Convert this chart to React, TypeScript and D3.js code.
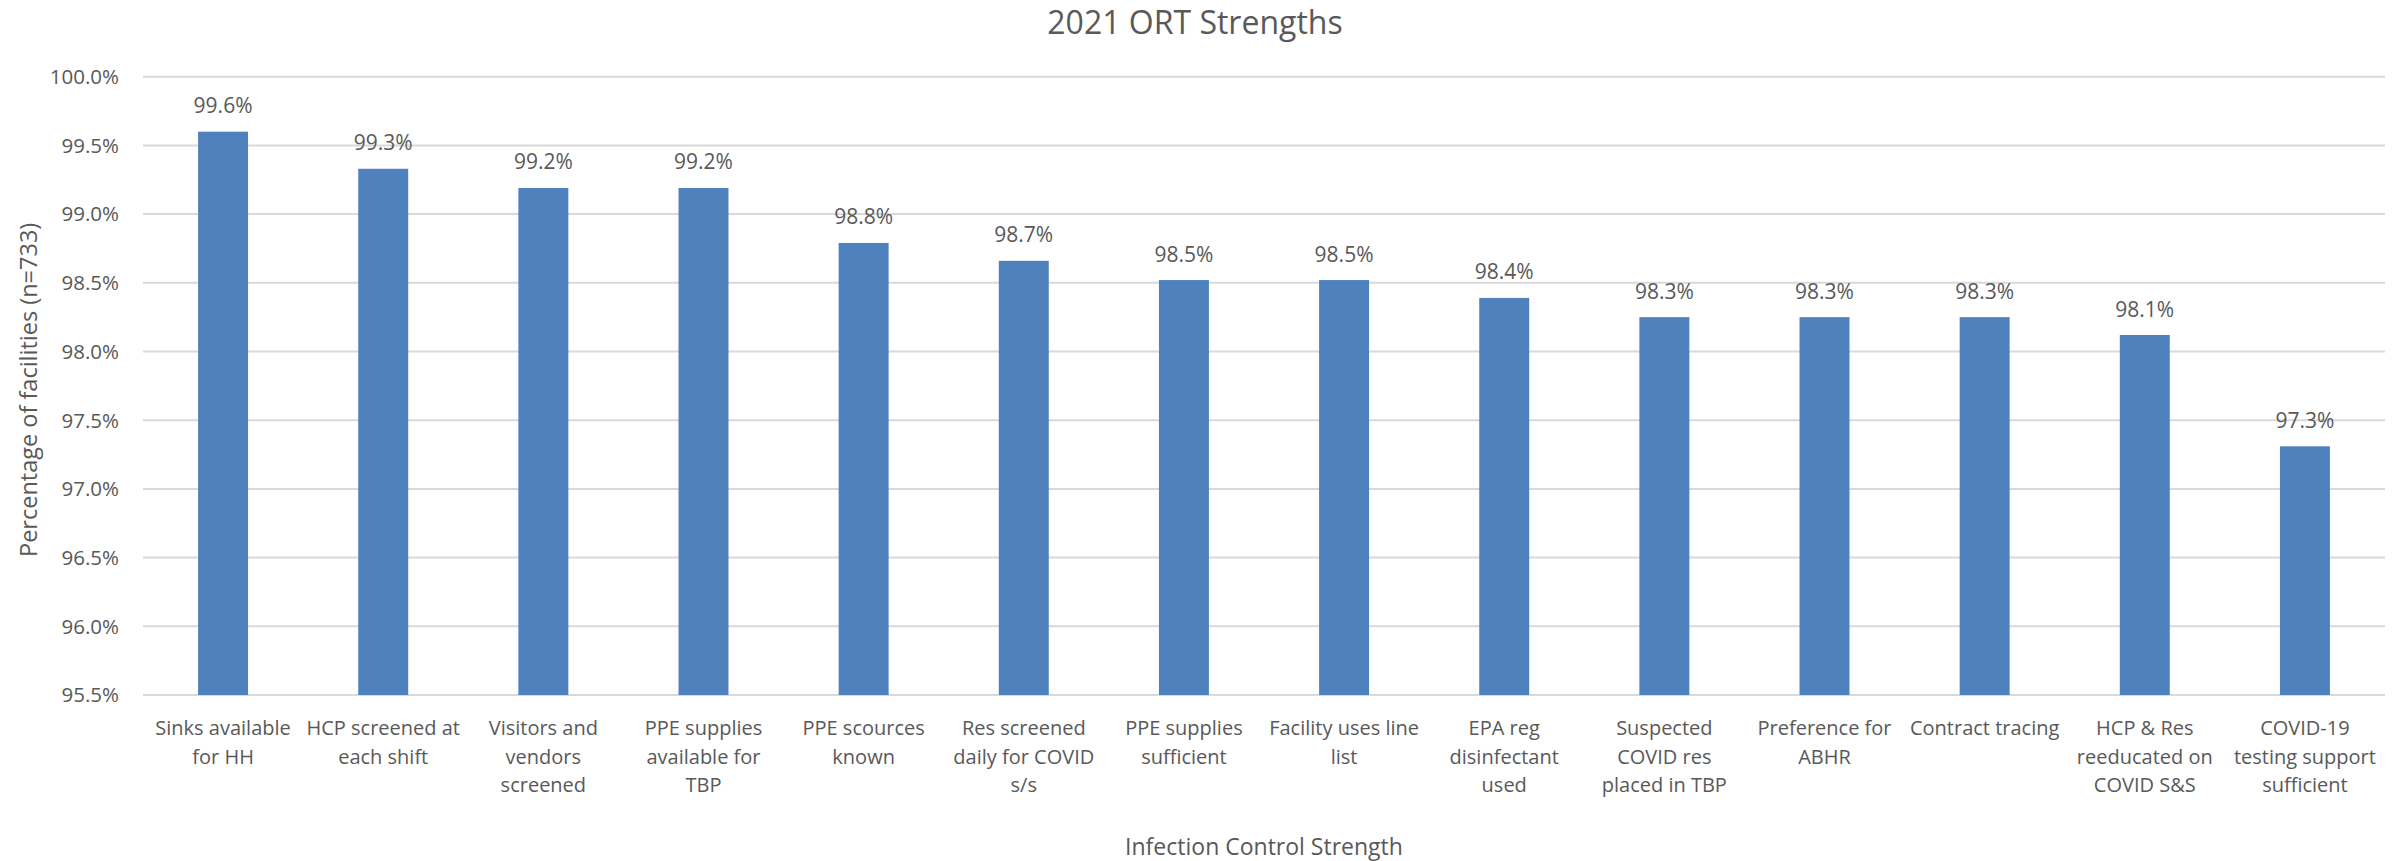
import React from "react";
import * as d3 from "d3";

// Share of facilities meeting each infection-control strength (%)
const categories: string[] = [
  "Sinks available\nfor HH",
  "HCP screened at\neach shift",
  "Visitors and\nvendors\nscreened",
  "PPE supplies\navailable for\nTBP",
  "PPE scources\nknown",
  "Res screened\ndaily for COVID\ns/s",
  "PPE supplies\nsufficient",
  "Facility uses line\nlist",
  "EPA reg\ndisinfectant\nused",
  "Suspected\nCOVID res\nplaced in TBP",
  "Preference for\nABHR",
  "Contract tracing",
  "HCP & Res\nreeducated on\nCOVID S&S",
  "COVID-19\ntesting support\nsufficient",
];

const values: number[] = [
  99.6, 99.33, 99.19, 99.19, 98.79, 98.66, 98.52, 98.52, 98.39, 98.25, 98.25,
  98.25, 98.12, 97.31,
];

const yTicks: number[] = [95.5, 96.0, 96.5, 97.0, 97.5, 98.0, 98.5, 99.0, 99.5, 100.0];

const title = "2021 ORT Strengths";
const xTitle = "Infection Control Strength";
const yTitle = "Percentage of facilities (n=733)";

const W = 2405;
const H = 861;
const plot = { left: 143, right: 2385, top: 76.7, bottom: 695 };
const FONT = "'Open Sans', 'Noto Sans', sans-serif";
const TEXT = "#595959";
const GRID = "#d9d9d9";
const BAR = "#4f81bd";

export default function App() {
  const x = d3
    .scaleBand<string>()
    .domain(categories)
    .range([plot.left, plot.right])
    .paddingInner(0.688)
    .paddingOuter(0.344);
  const y = d3
    .scaleLinear()
    .domain([yTicks[0], yTicks[yTicks.length - 1]])
    .range([plot.bottom, plot.top]);
  const fmt = (v: number) => `${v.toFixed(1)}%`;
  const step = x.step();

  return (
    <svg
      width={W}
      height={H}
      style={{ position: "absolute", left: 0, top: 0, background: "#fff" }}
      fontFamily={FONT}
    >
      <rect x={0} y={0} width={W} height={H} fill="#fff" />
      <text x={1195} y={34} textAnchor="middle" fontSize={32} fill={TEXT}>
        {title}
      </text>

      {/* gridlines and y tick labels */}
      {yTicks.map((t) => (
        <g key={t}>
          <line
            x1={plot.left}
            x2={plot.right}
            y1={y(t)}
            y2={y(t)}
            stroke={GRID}
            strokeWidth={2}
          />
          <text
            x={119}
            y={y(t)}
            dy="0.36em"
            textAnchor="end"
            fontSize={20.5}
            fill={TEXT}
          >
            {fmt(t)}
          </text>
        </g>
      ))}

      {/* bars with value labels */}
      {categories.map((c, i) => {
        const v = values[i];
        const bx = x(c) as number;
        return (
          <g key={c}>
            <rect
              x={bx}
              y={y(v)}
              width={x.bandwidth()}
              height={y(yTicks[0]) - y(v)}
              fill={BAR}
            />
            <text
              x={bx + x.bandwidth() / 2}
              y={y(v) - 18.5}
              textAnchor="middle"
              fontSize={21}
              fill={TEXT}
            >
              {fmt(v)}
            </text>
          </g>
        );
      })}

      {/* category labels */}
      {categories.map((c) => {
        const cx = (x(c) as number) + x.bandwidth() / 2;
        return (
          <text key={c} textAnchor="middle" fontSize={20} fill={TEXT}>
            {c.split("\n").map((line, j) => (
              <tspan key={j} x={cx} y={735 + j * 28.5}>
                {line}
              </tspan>
            ))}
          </text>
        );
      })}

      <text
        x={(plot.left + plot.right) / 2}
        y={855}
        textAnchor="middle"
        fontSize={23}
        fill={TEXT}
      >
        {xTitle}
      </text>
      <text
        transform={`translate(37,${(plot.top + plot.bottom) / 2 + 4}) rotate(-90)`}
        textAnchor="middle"
        fontSize={23.5}
        fill={TEXT}
      >
        {yTitle}
      </text>
    </svg>
  );
}
